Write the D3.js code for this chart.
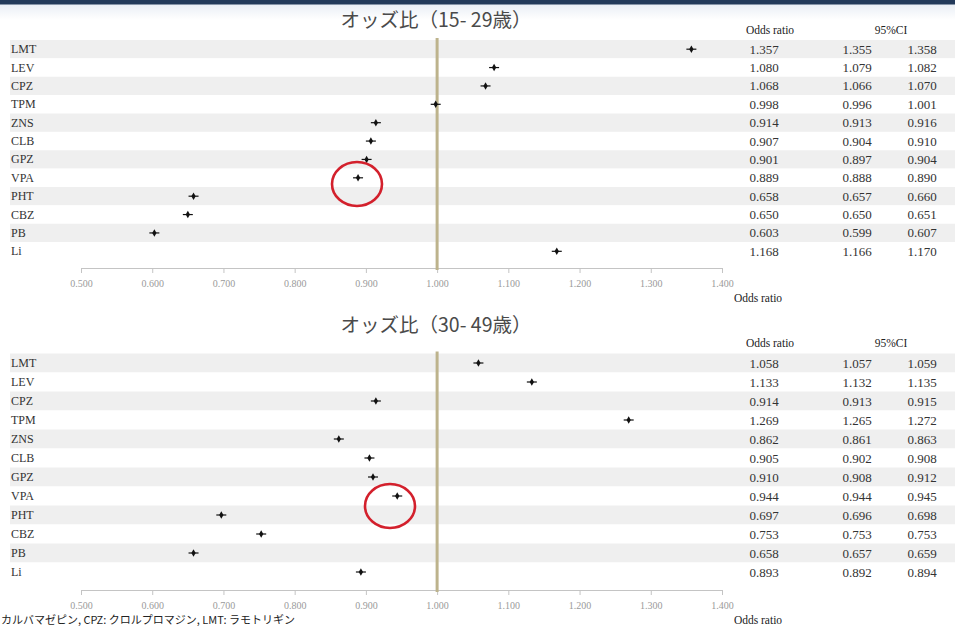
<!DOCTYPE html>
<html>
<head>
<meta charset="utf-8">
<script src="https://cdn.jsdelivr.net/npm/d3@7"></script>
<style>
  html, body { margin: 0; padding: 0; background: #fff; }
  svg { display: block; }
</style>
</head>
<body>
<svg id="chart" width="955" height="627"></svg>
<script>
// Drug abbreviations, top to bottom
const drugs = ["LMT", "LEV", "CPZ", "TPM", "ZNS", "CLB", "GPZ", "VPA", "PHT", "CBZ", "PB", "Li"];

// Ages 15-29: odds ratio and 95% CI
const or15 = [1.357, 1.080, 1.068, 0.998, 0.914, 0.907, 0.901, 0.889, 0.658, 0.650, 0.603, 1.168];
const lo15 = [1.355, 1.079, 1.066, 0.996, 0.913, 0.904, 0.897, 0.888, 0.657, 0.650, 0.599, 1.166];
const hi15 = [1.358, 1.082, 1.070, 1.001, 0.916, 0.910, 0.904, 0.890, 0.660, 0.651, 0.607, 1.170];

// Ages 30-49: odds ratio and 95% CI
const or30 = [1.058, 1.133, 0.914, 1.269, 0.862, 0.905, 0.910, 0.944, 0.697, 0.753, 0.658, 0.893];
const lo30 = [1.057, 1.132, 0.913, 1.265, 0.861, 0.902, 0.908, 0.944, 0.696, 0.753, 0.657, 0.892];
const hi30 = [1.059, 1.135, 0.915, 1.272, 0.863, 0.908, 0.912, 0.945, 0.698, 0.753, 0.659, 0.894];

const tickValues = [0.5, 0.6, 0.7, 0.8, 0.9, 1.0, 1.1, 1.2, 1.3, 1.4];
const titles = ["オッズ比（15- 29歳）", "オッズ比（30- 49歳）"];
const footnote = "カルバマゼピン, CPZ: クロルプロマジン, LMT: ラモトリギン";

const svg = d3.select("#chart");
const serif = "'Liberation Serif', 'DejaVu Serif', serif";
const jp = "'Noto Sans CJK JP', 'Noto Sans', sans-serif";

// slide header strip
const grad = svg.append("defs").append("linearGradient")
  .attr("id", "hdr").attr("x1", 0).attr("y1", 0).attr("x2", 0).attr("y2", 1);
grad.append("stop").attr("offset", 0).attr("stop-color", "#e9eef5");
grad.append("stop").attr("offset", 1).attr("stop-color", "#ffffff");
svg.append("rect").attr("x", 0).attr("y", 4).attr("width", 955).attr("height", 16).attr("fill", "url(#hdr)");
svg.append("rect").attr("x", 0).attr("y", 0).attr("width", 955).attr("height", 4.5).attr("fill", "#233a5a");

const x = d3.scaleLinear().domain([0.5, 1.4]).range([81, 722]);

const panels = [
  { title: titles[0], or: or15, lo: lo15, hi: hi15, titleY: 27, headY: 34, top: 40, bottom: 260.5, axisY: 268, circle: [357, 184, 25, 22] },
  { title: titles[1], or: or30, lo: lo30, hi: hi30, titleY: 332, headY: 347, top: 353.5, bottom: 581.5, axisY: 590, circle: [390, 506, 25, 22] }
];

panels.forEach(p => {
  const g = svg.append("g");
  const y = d3.scaleBand().domain(drugs).range([p.top, p.bottom]);

  // alternating row stripes
  g.selectAll("rect.stripe").data(drugs).join("rect")
    .attr("class", "stripe")
    .attr("x", 10).attr("width", 945)
    .attr("y", d => y(d)).attr("height", y.bandwidth())
    .attr("fill", (d, i) => i % 2 === 0 ? "#efefef" : "#ffffff");

  // panel title
  g.append("text")
    .attr("x", 436).attr("y", p.titleY)
    .attr("text-anchor", "middle")
    .attr("font-family", jp).attr("font-size", 19.5)
    .attr("fill", "#4a4a4a")
    .text(p.title);

  // table headers
  g.append("text").attr("x", 770).attr("y", p.headY).attr("text-anchor", "middle")
    .attr("font-family", serif).attr("font-size", 11.5).attr("fill", "#222").text("Odds ratio");
  g.append("text").attr("x", 891).attr("y", p.headY).attr("text-anchor", "middle")
    .attr("font-family", serif).attr("font-size", 11.5).attr("fill", "#222").text("95%CI");

  // row labels
  g.selectAll("text.lab").data(drugs).join("text")
    .attr("class", "lab")
    .attr("x", 11).attr("y", d => y(d) + y.bandwidth() / 2 + 4)
    .attr("font-family", serif).attr("font-size", 12).attr("fill", "#333")
    .text(d => d);

  // axis
  const axis = d3.axisBottom(x).tickValues(tickValues).tickFormat(d3.format(".3f")).tickSize(5);
  const ag = g.append("g").attr("transform", `translate(0,${p.axisY})`).call(axis);
  ag.select(".domain").attr("stroke", "#c4c4c4");
  ag.selectAll(".tick line").attr("stroke", "#c4c4c4");
  ag.selectAll(".tick text")
    .attr("font-family", serif).attr("font-size", 10).attr("fill", "#9a9a9a").attr("dy", "1.05em");

  g.append("text").attr("x", 758).attr("y", p.axisY + 34).attr("text-anchor", "middle")
    .attr("font-family", serif).attr("font-size", 11.5).attr("fill", "#222").text("Odds ratio");

  // reference line at OR = 1
  g.append("line")
    .attr("x1", x(1)).attr("x2", x(1))
    .attr("y1", p.top - 2).attr("y2", p.axisY + 2)
    .attr("stroke", "#bdb38c").attr("stroke-width", 3);

  // CI whiskers and point estimates
  drugs.forEach((d, i) => {
    const cy = y(d) + y.bandwidth() / 2;
    const cx = x(p.or[i]);
    g.append("line")
      .attr("x1", Math.min(x(p.lo[i]), cx - 5)).attr("x2", Math.max(x(p.hi[i]), cx + 5))
      .attr("y1", cy).attr("y2", cy)
      .attr("stroke", "#111").attr("stroke-width", 1.2);
    g.append("path")
      .attr("d", d3.symbol(d3.symbolDiamond, 16)())
      .attr("transform", `translate(${cx},${cy})`)
      .attr("fill", "#111");
  });

  // table values
  const fmt = d3.format(".3f");
  const cols = [[764, p.or], [857, p.lo], [922, p.hi]];
  cols.forEach(([cxv, arr]) => {
    g.selectAll(null).data(drugs).join("text")
      .attr("x", cxv).attr("y", d => y(d) + y.bandwidth() / 2 + 4.5)
      .attr("text-anchor", "middle")
      .attr("font-family", serif).attr("font-size", 13).attr("fill", "#333")
      .text((d, i) => fmt(arr[i]));
  });

  // highlight ring around VPA
  g.append("ellipse")
    .attr("cx", p.circle[0]).attr("cy", p.circle[1])
    .attr("rx", p.circle[2]).attr("ry", p.circle[3])
    .attr("fill", "none").attr("stroke", "#d3202c").attr("stroke-width", 2.6);
});

// abbreviation footnote
svg.append("text").attr("x", 1).attr("y", 624)
  .attr("font-family", jp).attr("font-size", 11).attr("fill", "#222")
  .text(footnote);
</script>
</body>
</html>
